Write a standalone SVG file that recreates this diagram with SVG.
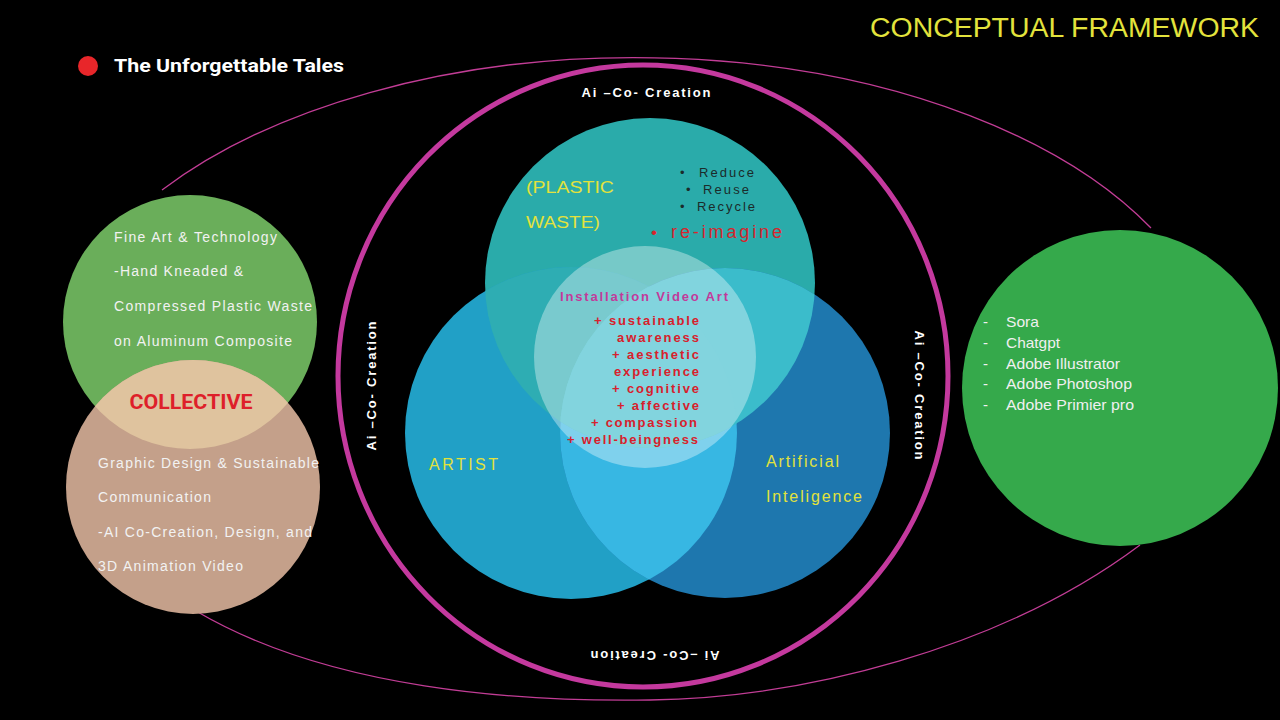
<svg xmlns="http://www.w3.org/2000/svg" width="1280" height="720" viewBox="0 0 1280 720">
  <defs>
    <style>
      .sans { font-family: "Liberation Sans", Arial, sans-serif; }
      .robo { font-family: Roboto, "Liberation Sans", sans-serif; font-weight: bold; }
      .wt { fill: #f2f2f2; font-size: 14px; }
      .aic { fill: #ffffff; font-size: 13px; font-weight: bold; font-family: "Liberation Sans", Arial, sans-serif; }
      .yl { fill: #e2e23c; font-family: "Liberation Sans", Arial, sans-serif; }
      .rd { fill: #d8202c; font-size: 13px; font-weight: bold; font-family: "Liberation Sans", Arial, sans-serif; }
      .dk { fill: #1b2b2b; font-size: 13px; font-family: "Liberation Sans", Arial, sans-serif; }
      .rt { fill: #f0f0f0; font-size: 15px; font-family: "Liberation Sans", Arial, sans-serif; }
      .thin { fill: none; stroke: #c23d96; stroke-width: 1.3; }
    </style>
    <clipPath id="clipLeft"><circle cx="571" cy="433" r="166"/></clipPath>
    <clipPath id="clipRight"><circle cx="725" cy="433" r="165"/></clipPath>
    <clipPath id="clipTop"><circle cx="650" cy="283" r="165"/></clipPath>
    <clipPath id="clipGreen"><circle cx="190" cy="322" r="127"/></clipPath>
  </defs>

  <rect x="0" y="0" width="1280" height="720" fill="#000000"/>

  <!-- connectors: thin outer ellipse arcs -->
  <g id="connectors">
    <path class="thin" d="M162,190 A585,322 0 0 1 1151,228"/>
    <path class="thin" d="M196,611 C330,690 520,702 650,700 C800,698 1000,650 1140,545"/>
  </g>

  <!-- Title -->
  <g id="title">
    <text x="1259" y="37" text-anchor="end" class="sans" font-size="27" fill="#e3e33c" textLength="389" lengthAdjust="spacingAndGlyphs">CONCEPTUAL FRAMEWORK</text>
  </g>
  <g id="subtitle">
    <circle cx="88" cy="66" r="10" fill="#e8262a"/>
    <text x="114" y="72" class="robo" font-size="19" fill="#ffffff" textLength="230" lengthAdjust="spacingAndGlyphs">The Unforgettable Tales</text>
  </g>

  <!-- Magenta ring: Ai Co-Creation -->
  <g id="ai-co-creation-ring">
    <ellipse cx="643" cy="376" rx="305" ry="311" fill="none" stroke="#c4399e" stroke-width="5"/>
    <text x="646" y="97" text-anchor="middle" class="aic" textLength="129" lengthAdjust="spacing">Ai –Co- Creation</text>
    <text transform="translate(376,386) rotate(-90)" text-anchor="middle" class="aic" textLength="129" lengthAdjust="spacing">Ai –Co- Creation</text>
    <text transform="translate(915,395) rotate(90)" text-anchor="middle" class="aic" textLength="129" lengthAdjust="spacing">Ai –Co- Creation</text>
    <text transform="translate(655,651) rotate(180)" text-anchor="middle" class="aic" textLength="129" lengthAdjust="spacing">Ai –Co- Creation</text>
  </g>

  <!-- Left collective circles -->
  <g id="node-fine-art">
    <circle cx="190" cy="322" r="127" fill="#6aae5a"/>
  </g>
  <g id="node-graphic-design">
    <circle cx="193" cy="487" r="127" fill="#c4a08a"/>
    <circle cx="193" cy="487" r="127" fill="#dfc39e" clip-path="url(#clipGreen)"/>
  </g>
  <g id="node-fine-art-text">
    <text x="114" y="242" class="sans wt" textLength="163" lengthAdjust="spacing">Fine Art &amp; Technology</text>
    <text x="114" y="276" class="sans wt" textLength="129" lengthAdjust="spacing">-Hand Kneaded &amp;</text>
    <text x="114" y="311" class="sans wt" textLength="198" lengthAdjust="spacing">Compressed Plastic Waste</text>
    <text x="114" y="346" class="sans wt" textLength="178" lengthAdjust="spacing">on Aluminum Composite</text>
  </g>
  <g id="node-collective">
    <text x="191" y="409" text-anchor="middle" class="robo" font-size="20" fill="#de1f2a" textLength="123" lengthAdjust="spacingAndGlyphs">COLLECTIVE</text>
  </g>
  <g id="node-graphic-design-text">
    <text x="98" y="468" class="sans wt" textLength="221" lengthAdjust="spacing">Graphic Design &amp; Sustainable</text>
    <text x="98" y="502" class="sans wt" textLength="113" lengthAdjust="spacing">Communication</text>
    <text x="98" y="537" class="sans wt" textLength="214" lengthAdjust="spacing">-AI Co-Creation, Design, and</text>
    <text x="98" y="571" class="sans wt" textLength="145" lengthAdjust="spacing">3D Animation Video</text>
  </g>

  <!-- Right tools circle -->
  <g id="node-tools">
    <circle cx="1120" cy="388" r="158" fill="#35a94b"/>
    <text x="983" y="327" class="rt">-</text>
    <text x="983" y="348" class="rt">-</text>
    <text x="983" y="369" class="rt">-</text>
    <text x="983" y="389" class="rt">-</text>
    <text x="983" y="410" class="rt">-</text>
    <text x="1006" y="327" class="rt" textLength="33" lengthAdjust="spacingAndGlyphs">Sora</text>
    <text x="1006" y="348" class="rt" textLength="54" lengthAdjust="spacingAndGlyphs">Chatgpt</text>
    <text x="1006" y="369" class="rt" textLength="114" lengthAdjust="spacingAndGlyphs">Adobe Illustrator</text>
    <text x="1006" y="389" class="rt" textLength="126" lengthAdjust="spacingAndGlyphs">Adobe Photoshop</text>
    <text x="1006" y="410" class="rt" textLength="128" lengthAdjust="spacingAndGlyphs">Adobe Primier pro</text>
  </g>

  <!-- Venn diagram -->
  <g id="node-plastic-waste">
    <circle cx="650" cy="283" r="165" fill="#2aabaa"/>
  </g>
  <g id="node-artist">
    <circle cx="571" cy="433" r="166" fill="#21a0c6"/>
  </g>
  <g id="node-ai">
    <circle cx="725" cy="433" r="165" fill="#1e77ae"/>
  </g>
  <g id="venn-overlaps">
    <circle cx="725" cy="433" r="165" fill="#37b7e3" clip-path="url(#clipLeft)"/>
    <g clip-path="url(#clipTop)">
      <circle cx="571" cy="433" r="166" fill="#2eadb3"/>
      <circle cx="725" cy="433" r="165" fill="#3bbccb"/>
      <g clip-path="url(#clipLeft)">
        <circle cx="725" cy="433" r="165" fill="#3cbccc"/>
      </g>
    </g>
  </g>
  <g id="node-installation">
    <circle cx="645" cy="357" r="111" fill="#ffffff" fill-opacity="0.36"/>
  </g>

  <g id="node-plastic-waste-text">
    <text x="526" y="193" class="yl" font-size="17" textLength="88" lengthAdjust="spacingAndGlyphs">(PLASTIC</text>
    <text x="526" y="228" class="yl" font-size="17" textLength="74" lengthAdjust="spacingAndGlyphs">WASTE)</text>
    <text x="680" y="177" class="dk">•</text>
    <text x="686" y="194" class="dk">•</text>
    <text x="680" y="211" class="dk">•</text>
    <text x="699" y="177" class="dk" textLength="55" lengthAdjust="spacing">Reduce</text>
    <text x="703" y="194" class="dk" textLength="46" lengthAdjust="spacing">Reuse</text>
    <text x="697" y="211" class="dk" textLength="58" lengthAdjust="spacing">Recycle</text>
    <text x="651" y="238" class="sans" font-size="17" fill="#d6252c">•</text>
    <text x="671" y="238" class="sans" font-size="18" fill="#d6252c" textLength="111" lengthAdjust="spacing">re-imagine</text>
  </g>

  <g id="node-installation-text">
    <text x="644" y="301" text-anchor="middle" class="sans" font-size="13" font-weight="bold" fill="#c23a9a" textLength="168" lengthAdjust="spacing">Installation Video Art</text>
    <text x="699" y="325" text-anchor="end" class="rd" textLength="105" lengthAdjust="spacing">+ sustainable</text>
    <text x="699" y="342" text-anchor="end" class="rd" textLength="82" lengthAdjust="spacing">awareness</text>
    <text x="699" y="359" text-anchor="end" class="rd" textLength="87" lengthAdjust="spacing">+ aesthetic</text>
    <text x="699" y="376" text-anchor="end" class="rd" textLength="85" lengthAdjust="spacing">experience</text>
    <text x="699" y="393" text-anchor="end" class="rd" textLength="87" lengthAdjust="spacing">+ cognitive</text>
    <text x="699" y="410" text-anchor="end" class="rd" textLength="82" lengthAdjust="spacing">+ affective</text>
    <text x="697" y="427" text-anchor="end" class="rd" textLength="106" lengthAdjust="spacing">+ compassion</text>
    <text x="698" y="444" text-anchor="end" class="rd" textLength="131" lengthAdjust="spacing">+ well-beingness</text>
  </g>

  <g id="node-artist-text">
    <text x="429" y="470" class="yl" font-size="16" textLength="69" lengthAdjust="spacing">ARTIST</text>
  </g>
  <g id="node-ai-text">
    <text x="766" y="467" class="yl" font-size="16" textLength="73" lengthAdjust="spacing">Artificial</text>
    <text x="766" y="502" class="yl" font-size="16" textLength="96" lengthAdjust="spacing">Inteligence</text>
  </g>
</svg>
